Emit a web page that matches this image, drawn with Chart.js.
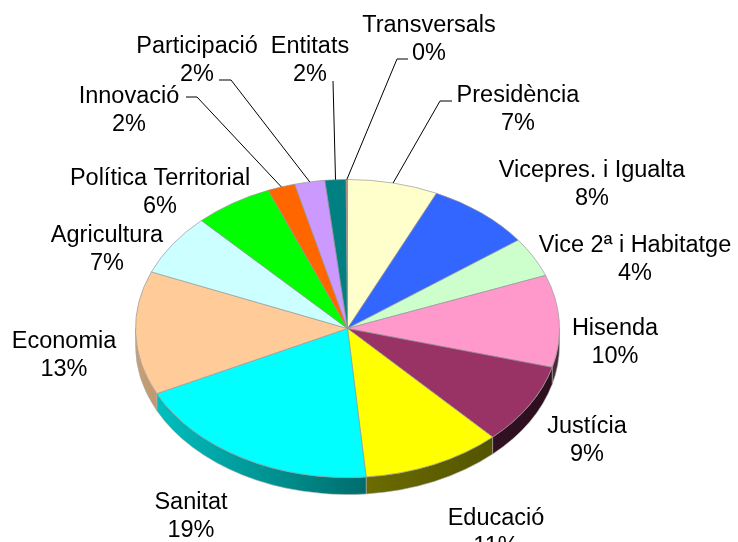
<!DOCTYPE html>
<html><head><meta charset="utf-8">
<script src="https://cdn.jsdelivr.net/npm/chart.js@4.4.1/dist/chart.umd.min.js"></script>
<style>html,body{margin:0;padding:0;background:#fff;}#wrap{width:738px;height:542px;}</style>
</head><body><div id="wrap"><canvas id="c" width="738" height="542"></canvas></div>
<script>
// ---- data ----
const categories = ['Presidència','Vicepres. i Igualta','Vice 2ª i Habitatge','Hisenda','Justícia','Educació','Sanitat','Economia','Agricultura','Política Territorial','Innovació','Participació','Entitats','Transversals'];
const values = [6.9, 8.0, 4.3, 10.0, 8.8, 10.6, 19.2, 13.4, 6.7, 6.0, 2.1, 2.3, 1.6, 0.1];

// ---- styles / layout ----
const colors = ['#FFFFCC','#3366FF','#CCFFCC','#FF99CC','#993366','#FFFF00','#00FFFF','#FFCC99','#CCFFFF','#00FF00','#FF6600','#CC99FF','#008080','#E07070'];
const labelLayout = [
  {x:518, y:102}, {x:592, y:177}, {x:635, y:252}, {x:615, y:335}, {x:587, y:433},
  {x:496, y:525}, {x:191, y:509}, {x:64, y:348}, {x:107, y:242}, {x:160, y:185},
  {x:129, y:103}, {x:197, y:53}, {x:310, y:53}, {x:429, y:32}
];
const leaders = {0:[[452,101],[440,101]], 13:[[408,59],[397,59]], 12:[[333,81],[333,81]], 11:[[219,80],[231,80]], 10:[[186,97],[197,97]]};
const SQUASH = 149/212;
const DEPTH = 17;
const FONT = '23.5px "Liberation Sans", Arial, sans-serif';
const LINE_H = 27.5;

function shade(hex, f){
  const n = parseInt(hex.slice(1),16);
  const r = Math.round(((n>>16)&255)*f), g = Math.round(((n>>8)&255)*f), b = Math.round((n&255)*f);
  return `rgb(${r},${g},${b})`;
}

const pie3d = {
  id:'pie3d',
  beforeDatasetsDraw(chart){
    const ctx = chart.ctx;
    const meta = chart.getDatasetMeta(0);
    const a = meta.data[0];
    const cx = a.x, cy = a.y, r = a.outerRadius, ry = r*SQUASH;
    // sides (visible lower half)
    meta.data.forEach((arc,i)=>{
      const s = Math.max(arc.startAngle, 0), e = Math.min(arc.endAngle, Math.PI);
      if (e <= s) return;
      const g = ctx.createLinearGradient(cx-r,0,cx+r,0);
      g.addColorStop(0, shade(colors[i],0.78));
      g.addColorStop(0.55, shade(colors[i],0.42));
      g.addColorStop(1, shade(colors[i],0.28));
      ctx.save();
      ctx.beginPath();
      ctx.ellipse(cx, cy, r, ry, 0, s, e, false);
      ctx.lineTo(cx + r*Math.cos(e), cy + DEPTH + ry*Math.sin(e));
      ctx.ellipse(cx, cy+DEPTH, r, ry, 0, e, s, true);
      ctx.closePath();
      ctx.fillStyle = g;
      ctx.fill();
      ctx.strokeStyle = 'rgba(170,170,170,0.7)';
      ctx.lineWidth = 0.8;
      ctx.stroke();
      ctx.restore();
    });
    ctx.save();
    ctx.translate(cx, cy);
    ctx.scale(1, SQUASH);
    ctx.translate(-cx, -cy);
  },
  afterDatasetsDraw(chart){
    const ctx = chart.ctx;
    ctx.restore();
    const meta = chart.getDatasetMeta(0);
    const a = meta.data[0];
    const cx = a.x, cy = a.y, r = a.outerRadius, ry = r*SQUASH;
    const total = values.reduce((p,q)=>p+q,0);
    ctx.save();
    // leaders
    ctx.strokeStyle = '#000';
    ctx.lineWidth = 1;
    Object.keys(leaders).forEach(k=>{
      const arc = meta.data[k];
      const mid = (arc.startAngle + arc.endAngle)/2;
      const ex = cx + r*Math.cos(mid), ey = cy + ry*Math.sin(mid);
      const [p1,p2] = leaders[k];
      ctx.beginPath();
      ctx.moveTo(p1[0], p1[1]);
      ctx.lineTo(p2[0], p2[1]);
      ctx.lineTo(ex, ey);
      ctx.stroke();
    });
    // labels
    ctx.fillStyle = '#000';
    ctx.font = FONT;
    ctx.textAlign = 'center';
    ctx.textBaseline = 'alphabetic';
    categories.forEach((c,i)=>{
      const L = labelLayout[i];
      ctx.fillText(c, L.x, L.y);
      ctx.fillText(Math.round(values[i]/total*100) + '%', L.x, L.y + LINE_H);
    });
    ctx.restore();
  }
};

new Chart(document.getElementById('c'), {
  type:'pie',
  data:{ labels: categories, datasets:[{ data: values, backgroundColor: colors, borderColor:'rgba(150,150,150,0.8)', borderWidth:1 }]},
  options:{
    responsive:false,
    animation:false,
    events:[],
    layout:{ padding:{ left:135, right:178, top:116, bottom:1 } },
    plugins:{ legend:{display:false}, tooltip:{enabled:false} }
  },
  plugins:[pie3d]
});
</script>
</body></html>
